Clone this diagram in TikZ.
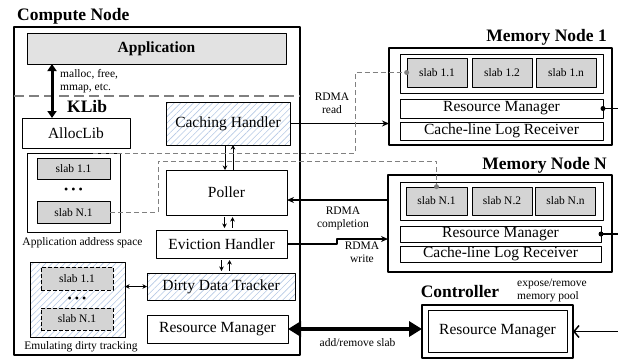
\documentclass[tikz,border=0pt]{standalone}
\usepackage{fontspec}
\setmainfont{Liberation Serif}
\usetikzlibrary{arrows.meta,patterns.meta}
\definecolor{hatchc}{RGB}{180,200,228}
\definecolor{slabc}{RGB}{212,212,212}
\definecolor{appc}{RGB}{226,226,226}
\newcommand{\pxsize}[2]{\fontsize{#1}{#2}\selectfont}
\begin{document}
\begin{tikzpicture}[x=1pt, y=-1pt, line join=round, >=Stealth,
	box/.style={draw, line width=0.8pt, inner sep=0pt, outer sep=0pt, font=\pxsize{15.5}{17}},
	hatch/.style={pattern={Lines[angle=45,distance=4.5pt,line width=0.6pt]}, pattern color=hatchc},
	slab/.style={draw, line width=0.7pt, fill=slabc, inner sep=0pt, font=\pxsize{11.5}{13}},
	group/.style={draw, line width=2.4pt, inner sep=0pt, outer sep=0pt},
	title/.style={font=\bfseries\pxsize{17.5}{19}, inner sep=0pt},
	lbl/.style={font=\pxsize{11.5}{13}, align=center, inner sep=0pt},
	dline/.style={draw=gray, line width=0.9pt, dash pattern=on 5pt off 3pt},
	link/.style={line width=1.5pt, -{Stealth[length=7pt,width=6pt]}},
	sarr/.style={line width=0.9pt, >={Stealth[length=4.5pt,width=4.5pt]}},
	]
	\useasboundingbox (0,0) rectangle (618,360);
	% compute node
	\node[group, minimum width=286pt, minimum height=328pt] (comp) at (157,191) {};
	\node[title, anchor=base west] (comptitle) at (17,20) {Compute Node};
	\node[box, fill=appc, font=\bfseries\pxsize{15.5}{17}, minimum width=259pt, minimum height=31pt] (app) at (156.5,48.5) {Application};
	\draw[gray, line width=1.8pt, dash pattern=on 10pt off 5pt] (comp.west |- 0,96) -- (comp.east |- 0,96);
	\node[title, anchor=base west] (klib) at (67,112) {KLib};
	\node[box, minimum width=108pt, minimum height=30pt] (alloc) at (76,133) {AllocLib};
	\coordinate (mk) at (52,0);
	\draw[line width=3pt, {Triangle[length=7pt,width=9pt]}-{Triangle[length=7pt,width=9pt]}] (mk |- app.south) -- (mk |- alloc.north);
	\node[lbl, anchor=west, align=left] (mlabel) at (60,81) {malloc, free,\\mmap, etc.};
	\node[box, hatch, minimum width=124pt, minimum height=43pt] (cache) at (228,123.5) {Caching Handler};
	\node[box, minimum width=93pt, minimum height=79pt] (aspace) at (73.5,192.5) {};
	\node[slab, minimum width=73pt, minimum height=21pt] (a11) at (73.5,169) {slab 1.1};
	\node[font=\pxsize{12}{12}, inner sep=0pt] (adots) at (73.5,191) {• • •};
	\node[slab, minimum width=73pt, minimum height=22pt] (aN1) at (73.5,212.5) {slab N.1};
	\node[lbl] (alabel) at (82.5,243) {Application address space};
	\node[box, minimum width=121pt, minimum height=45pt] (poller) at (226.5,192.5) {Poller};
	\node[box, minimum width=131pt, minimum height=28pt] (evict) at (221.5,244) {Eviction Handler};
	\node[box, hatch, minimum width=148pt, minimum height=27pt] (dirty) at (221,286.5) {Dirty Data Tracker};
	\node[box, minimum width=141pt, minimum height=28pt] (crm) at (217.5,329) {Resource Manager};
	\node[box, hatch, minimum width=95pt, minimum height=75pt] (emu) at (77.5,299.5) {};
	\node[slab, dash pattern=on 4pt off 2pt, minimum width=72pt, minimum height=23pt] (e11) at (77,278.5) {slab 1.1};
	\node[font=\pxsize{12}{12}, inner sep=0pt] (edots) at (77,300) {• • •};
	\node[slab, dash pattern=on 4pt off 2pt, minimum width=72pt, minimum height=22pt] (eN1) at (77,319) {slab N.1};
	\node[lbl] (elabel) at (81,347) {Emulating dirty tracking};
	\draw[sarr, ->] ([xshift=-3pt]cache.south) -- ++(0,25);
	\draw[sarr, <-] ([xshift=5pt]cache.south) -- ++(0,25);
	\draw[sarr, ->] ([xshift=-2pt,yshift=-2pt]poller.south) -- ++(0,11);
	\draw[sarr, <-] ([xshift=6pt,yshift=-2pt]poller.south) -- ++(0,11);
	\draw[sarr, ->] ([xshift=0pt,yshift=-2pt]evict.south) -- ++(0,11);
	\draw[sarr, <-] ([xshift=8pt,yshift=-2pt]evict.south) -- ++(0,11);
	\draw[sarr, <->] (dirty.west -| emu.east) -- (dirty.west);
	% memory node 1
	\node[group, minimum width=223pt, minimum height=97pt] (mem1) at (500.5,96.5) {};
	\node[title, anchor=base east] (mem1title) at (607,41) {Memory Node 1};
	\node[box, minimum width=203pt, minimum height=39pt] (m1pool) at (501.5,73.5) {};
	\node[slab, minimum width=60pt, minimum height=29pt] (s11) at (437,72.5) {slab 1.1};
	\node[slab, minimum width=60pt, minimum height=29pt] (s12) at (502,72.5) {slab 1.2};
	\node[slab, minimum width=60pt, minimum height=29pt] (s1n) at (566,72.5) {slab 1.n};
	\node[box, minimum width=203pt, minimum height=19pt] (m1rm) at (501.5,108.5) {Resource Manager};
	\node[box, minimum width=203pt, minimum height=18pt] (m1log) at (501.5,131) {Cache-line Log Receiver};
	% memory node N
	\node[group, minimum width=224pt, minimum height=97pt] (memN) at (500,223.5) {};
	\node[title, anchor=base east] (memNtitle) at (607,169.5) {Memory Node N};
	\node[box, minimum width=203pt, minimum height=38pt] (mNpool) at (501.5,201) {};
	\node[slab, minimum width=61pt, minimum height=28pt] (sN1) at (436.5,201) {slab N.1};
	\node[slab, minimum width=60pt, minimum height=28pt] (sN2) at (502,201) {slab N.2};
	\node[slab, minimum width=60pt, minimum height=28pt] (sNn) at (565.5,201) {slab N.n};
	\node[box, minimum width=201pt, minimum height=16pt] (mNrm) at (500.5,234) {Resource Manager};
	\node[box, minimum width=201pt, minimum height=16pt] (mNlog) at (500.5,254) {Cache-line Log Receiver};
	% controller
	\node[title, anchor=base] (ctitle) at (460,297) {Controller};
	\node[lbl, anchor=west, align=left] (clabel) at (517,290) {expose/remove\\memory pool};
	\node[group, minimum width=151pt, minimum height=53pt] (ctrl) at (497.5,331.5) {};
	\node[box, line width=1pt, minimum width=139pt, minimum height=42pt] (ctrlrm) at (497.5,331) {Resource Manager};
	% links
	\draw[link] (cache.east) -- (cache.east -| mem1.west);
	\node[lbl] (rdlabel) at (332,103) {RDMA\\read};
	\coordinate (pin) at ([yshift=-7.5pt]poller.east);
	\draw[link] (pin -| memN.west) -- (pin);
	\node[lbl] (cplabel) at (343,218) {RDMA\\completion};
	\coordinate (wbend) at (337,239);
	\draw[link] (evict.east) -| (wbend) -- (wbend -| memN.west);
	\node[lbl] (wrlabel) at (362,252) {RDMA\\write};
	\draw[line width=4.5pt, {Triangle[length=13pt,width=15pt]}-{Triangle[length=13pt,width=15pt]}] (crm.east) -- (crm.east -| ctrl.west);
	\node[lbl] (slabel) at (357.5,343) {add/remove slab};
	\coordinate (cin) at (618,331.5);
	\draw[line width=1.5pt, -{Straight Barb[length=5pt,width=12pt]}] (cin) -- (ctrl.east);
	\draw[line width=1.2pt] (m1rm.east) -- ++(15,0);
	\fill (m1rm.east) circle (2.5pt);
	\draw[line width=1.2pt] (mNrm.east) -- ++(18,0);
	\fill (mNrm.east) circle (2.5pt);
	% dashed slab mapping
	\coordinate (pl) at (158,161);
	\draw[dline] (aN1.east) -| (pl) -| (sN1.north);
	\fill[gray] (sN1.north) circle (2.5pt);
	\coordinate (as) at (93,153);
	\coordinate (rd) at (355,153);
	\draw[dline] (as) -- (rd) |- (s11.west);
	\fill[gray] (s11.west) circle (2.5pt);
\end{tikzpicture}
\end{document}
